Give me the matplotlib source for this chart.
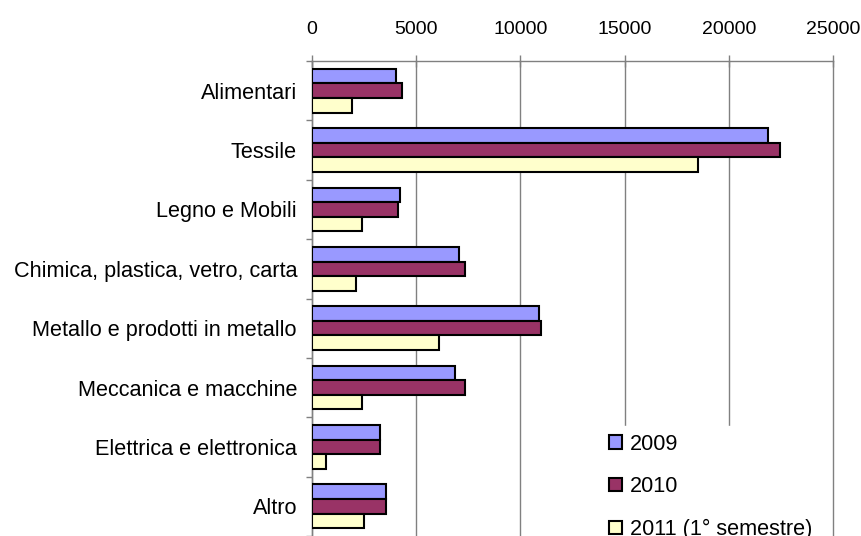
import matplotlib
matplotlib.use("Agg")
import matplotlib.pyplot as plt
import numpy as np

plt.rcParams['font.family'] = ['Liberation Sans', 'DejaVu Sans']

categories = ["Alimentari", "Tessile", "Legno e Mobili", "Chimica, plastica, vetro, carta",
              "Metallo e prodotti in metallo", "Meccanica e macchine",
              "Elettrica e elettronica", "Altro"]
series_names = ["2009", "2010", "2011 (1° semestre)"]
v2009 = [4030, 21900, 4240, 7030, 10890, 6840, 3270, 3550]
v2010 = [4340, 22470, 4150, 7320, 10990, 7320, 3270, 3550]
v2011 = [1910, 18500, 2400, 2120, 6080, 2400, 670, 2480]
colors = ["#9999FF", "#993366", "#FFFFCC"]
xticks = [0, 5000, 10000, 15000, 20000, 25000]

fig = plt.figure(figsize=(8.61, 5.36), dpi=100)
ax = fig.add_axes([312/861, 0.0, (833-312)/861, 1 - 61/536])

y = np.arange(len(categories))
h = 0.245
for i, (vals, name, c) in enumerate(zip([v2009, v2010, v2011], series_names, colors)):
    ax.barh(y + (i - 1) * h, vals, height=h, color=c, edgecolor="black",
            linewidth=1.5, label=name, zorder=3)

ax.set_xlim(0, 25000)
ax.set_ylim(len(categories) - 0.5, -0.5)
ax.xaxis.tick_top()
ax.set_xticks(xticks)
ax.set_xticklabels([str(t) for t in xticks], fontsize=14)
ax.tick_params(axis='x', direction='inout', length=8, width=1, color='#808080', pad=12.6)
ax.set_yticks(y)
ax.set_yticklabels(categories, fontsize=15.6)
ax.tick_params(axis='y', which='major', length=0, pad=10.8)
ax.set_yticks(np.arange(len(categories) + 1) - 0.5, minor=True)
ax.tick_params(axis='y', which='minor', direction='out', length=4.5, width=1, color='#808080')

ax.grid(axis='x', color='#808080', linewidth=1, zorder=0)
for gl in ax.get_xgridlines():
    gl.set_clip_on(False)
for s in ['right', 'bottom']:
    ax.spines[s].set_visible(False)
for s in ['top', 'left']:
    ax.spines[s].set_color('#808080')
    ax.spines[s].set_linewidth(1)

leg = ax.legend(loc='upper left', bbox_to_anchor=(601/861, 1 - 426/536),
                bbox_transform=fig.transFigure, frameon=True, fontsize=15.6,
                handlelength=0.6, handleheight=0.6, handletextpad=0.37,
                labelspacing=1.0, borderpad=0.35, borderaxespad=0)
leg.get_frame().set_facecolor('white')
leg.get_frame().set_edgecolor('white')
leg.get_frame().set_alpha(1)
leg.get_frame().set_boxstyle('square', pad=0)
leg.set_zorder(5)
for p in leg.get_patches():
    p.set_linewidth(1.5)

fig.savefig("out.png", dpi=100)
